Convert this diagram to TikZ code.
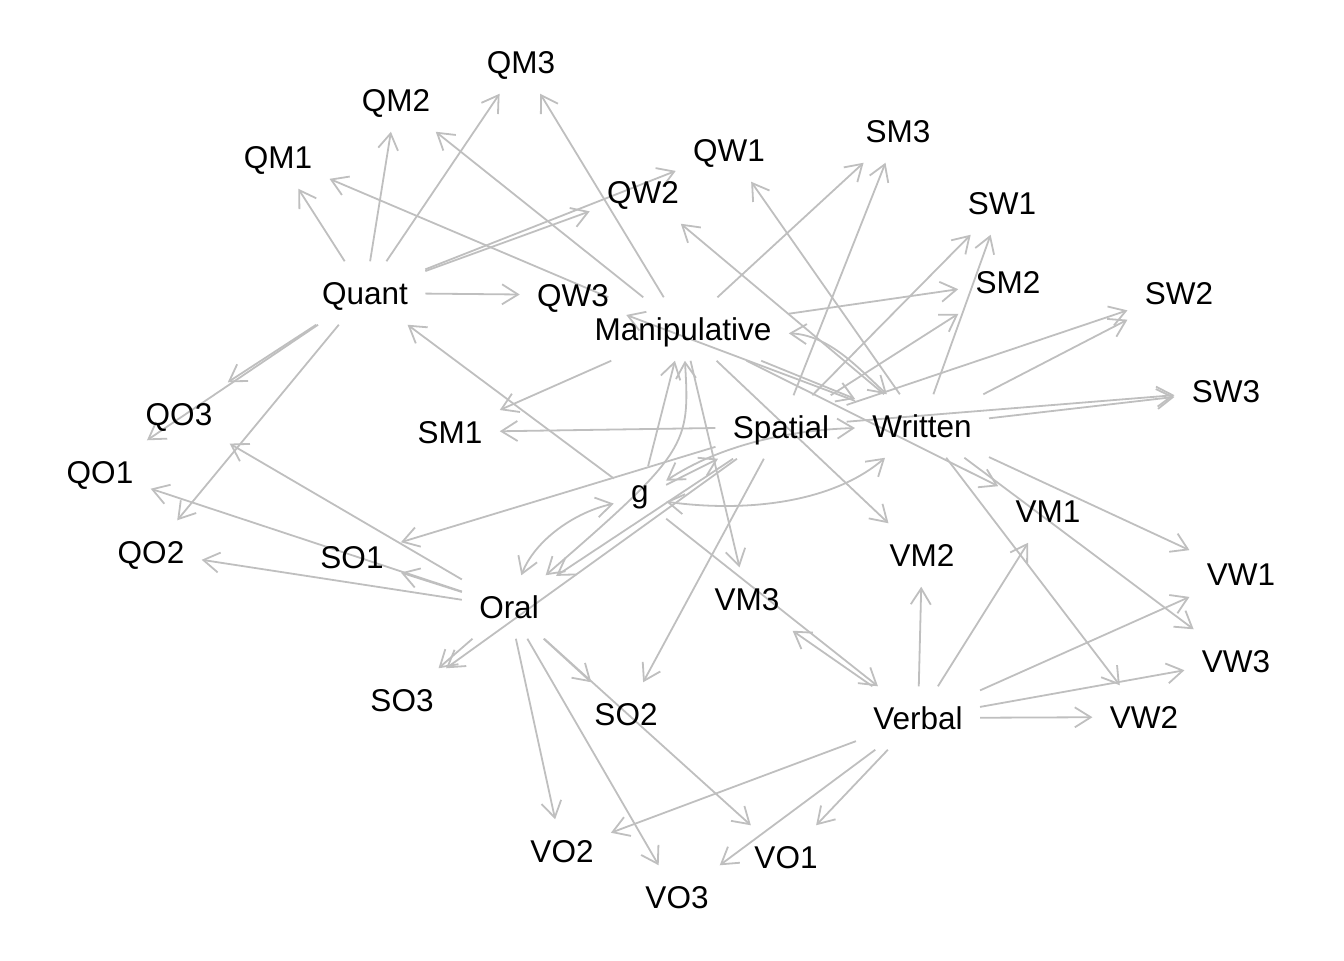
\documentclass[tikz,border=0pt]{standalone}
\usepackage{fontspec}
\setmainfont{Liberation Sans}
\usetikzlibrary{arrows.meta,backgrounds}
\definecolor{eg}{RGB}{191,191,191}
\begin{document}
\begin{tikzpicture}[x=0.5pt,y=-0.5pt,
  lv/.style={inner xsep=8.5pt, inner ysep=10pt, text height=11.34pt, text depth=0pt,
             font=\fontsize{15.75}{18.9}\selectfont},
  tip/.tip={Straight Barb[length=8pt,width=10pt]},
  e/.style={draw=eg, line width=0.9pt, -tip},
  eb/.style={draw=eg, line width=0.9pt, tip-tip}]
\useasboundingbox (0,0) rectangle (1344,960);
% nodes
\node[lv] (QM3) at (521,62) {QM3};
\node[lv] (QM2) at (396,100) {QM2};
\node[lv] (QM1) at (278,157) {QM1};
\node[lv] (QW1) at (729,150) {QW1};
\node[lv] (SM3) at (898,131) {SM3};
\node[lv] (QW2) at (643,192) {QW2};
\node[lv] (SW1) at (1002,203) {SW1};
\node[lv] (Quant) at (365,293) {Quant};
\node[lv] (QW3) at (573,295) {QW3};
\node[lv] (SM2) at (1008,282) {SM2};
\node[lv] (SW2) at (1179,293) {SW2};
\node[lv] (Manip) at (683,329) {Manipulative};
\node[lv] (SW3) at (1226,391) {SW3};
\node[lv] (QO3) at (179,414) {QO3};
\node[lv] (SM1) at (450,432) {SM1};
\node[lv] (Spatial) at (781,427) {Spatial};
\node[lv] (Written) at (922,426) {Written};
\node[lv] (QO1) at (100,472) {QO1};
\node[lv, text height=8.2pt, text depth=3.3pt] (g) at (640,498) {g};
\node[lv] (VM1) at (1048,511) {VM1};
\node[lv] (QO2) at (151,552) {QO2};
\node[lv] (SO1) at (352,557) {SO1};
\node[lv] (VM2) at (922,555) {VM2};
\node[lv] (VW1) at (1241,574) {VW1};
\node[lv] (VM3) at (747,599) {VM3};
\node[lv] (Oral) at (509,607) {Oral};
\node[lv] (VW3) at (1236,661) {VW3};
\node[lv] (SO3) at (402,700) {SO3};
\node[lv] (SO2) at (626,714) {SO2};
\node[lv] (Verbal) at (918,718) {Verbal};
\node[lv] (VW2) at (1144,717) {VW2};
\node[lv] (VO2) at (562,851) {VO2};
\node[lv] (VO1) at (786,857) {VO1};
\node[lv] (VO3) at (677,897) {VO3};
\begin{pgfonlayer}{background}
% indicator edges
\foreach \a/\b in {Quant/QM1,Quant/QM2,Quant/QM3,Quant/QW1,Quant/QW2,Quant/QW3,Quant/QO1,Quant/QO2,Quant/QO3,
  Spatial/SM1,Spatial/SM2,Spatial/SM3,Spatial/SW1,Spatial/SW2,Spatial/SW3,Spatial/SO1,Spatial/SO2,Spatial/SO3,
  Verbal/VM1,Verbal/VM2,Verbal/VM3,Verbal/VW1,Verbal/VW2,Verbal/VW3,Verbal/VO1,Verbal/VO2,Verbal/VO3,
  Manip/QM1,Manip/QM2,Manip/QM3,Manip/SM1,Manip/SM2,Manip/SM3,Manip/VM1,Manip/VM2,Manip/VM3,
  Written/QW1,Written/QW2,Written/QW3,Written/SW1,Written/SW2,Written/SW3,Written/VW1,Written/VW2,Written/VW3,
  Oral/QO1,Oral/QO2,Oral/QO3,Oral/SO1,Oral/SO2,Oral/SO3,Oral/VO1,Oral/VO2,Oral/VO3}
  \draw[e] (\a) -- (\b);
% latent edges
\draw[e] (g) -- (Quant);
\draw[e] (g) -- (Spatial);
\draw[e] (g) -- (Verbal);
\draw[e] (g) -- (Manip);
\draw[e] (Spatial) -- (Oral);
\draw[e] (Manip) -- (Written);
\draw[eb] (Manip) .. controls (830,335) and (860,370) .. (Written);
\draw[eb] (Manip) .. controls (690,445) and (688,452) .. (Oral);
\draw[eb] (g) .. controls (575,512) and (535,540) .. (Oral);
\draw[eb] (g) .. controls (740,512) and (830,505) .. (Written);
\draw[eb] (g) .. controls (720,445) and (790,430) .. (Written);
\end{pgfonlayer}
\end{tikzpicture}
\end{document}
